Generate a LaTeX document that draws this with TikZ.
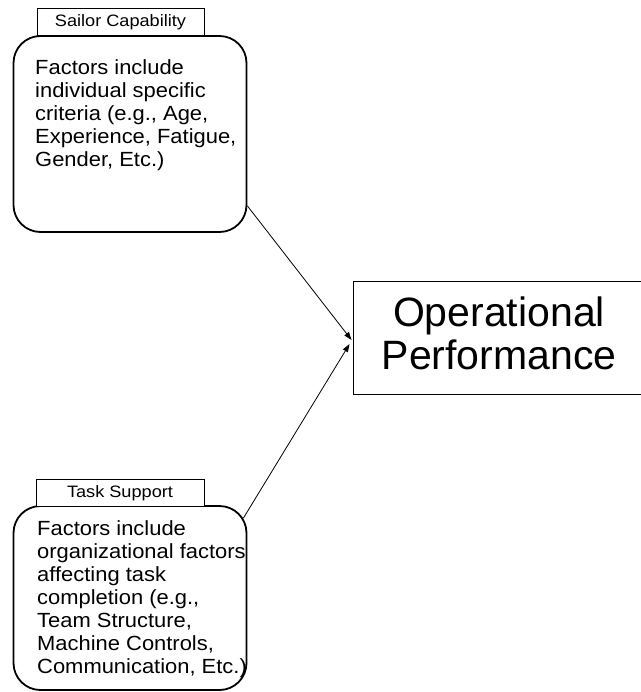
\documentclass[tikz,border=0pt]{standalone}
\usepackage{fontspec}
\setmainfont{Liberation Sans}
\newfontfamily\widesans[FakeStretch=1.07]{Liberation Sans}
\newfontfamily\tagsans[FakeStretch=1.1]{Liberation Sans}
\usetikzlibrary{arrows.meta,calc}
\begin{document}
\begin{tikzpicture}[x=1pt,y=-1pt,
  factorbox/.style={draw, line width=1.8pt, rounded corners=27pt, inner sep=0pt},
  tagbox/.style={draw, fill=white, line width=0.9pt, inner sep=0pt,
    font=\tagsans\fontsize{16.5}{18}\selectfont},
  bodytext/.style={anchor=north west, inner sep=0pt, align=left,
    font=\widesans\fontsize{20.5}{23}\selectfont},
  outcome/.style={draw, line width=0.9pt, inner sep=0pt, align=center,
    font=\fontsize{41}{43}\selectfont},
  link/.style={line width=0.8pt, -{Triangle[length=8pt,width=5.5pt]}}]
\useasboundingbox (0,0) rectangle (640,692);

% Sailor capability group
\node[factorbox, minimum width=233pt, minimum height=196pt] (sailor) at (130,134) {};
\node[tagbox, minimum width=167pt, minimum height=27pt] (sailortag) at (120.5,22) {Sailor Capability};
\node[bodytext] (sailortext) at (35,59)
  {Factors include\\individual specific\\criteria (e.g., Age,\\Experience, Fatigue,\\Gender, Etc.)};

% Task support group
\node[factorbox, minimum width=233pt, minimum height=184pt] (task) at (130,598) {};
\node[tagbox, minimum width=168pt, minimum height=27pt] (tasktag) at (120,493) {Task Support};
\node[bodytext] (tasktext) at (37,520)
  {Factors include\\organizational factors\\affecting task\\completion (e.g.,\\Team Structure,\\Machine Controls,\\Communication, Etc.)};

% Outcome
\node[outcome, minimum width=300pt, minimum height=113pt] (perf) at (503,338) {};
\node[inner sep=0pt, align=center, font=\fontsize{41}{43}\selectfont] (perftext) at (499,333)
  {Operational\\Performance};

% Links
\draw[link] ($(sailor.south east)+(0,-27)$) -- ($(perf.west)+(-1,2)$);
\draw[link] ($(task.north east)+(-4,13)$) -- ($(perf.west)+(-3,6)$);
\end{tikzpicture}
\end{document}
